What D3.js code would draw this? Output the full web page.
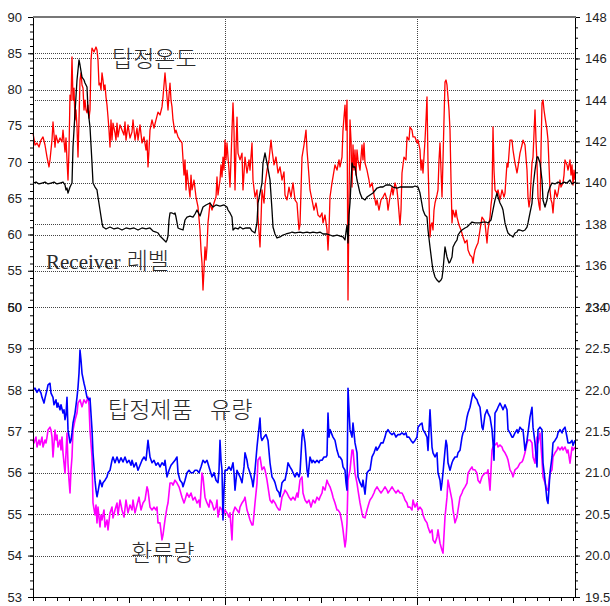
<!DOCTYPE html>
<html>
<head>
<meta charset="utf-8">
<script src="https://cdn.jsdelivr.net/npm/d3@7"></script>
<style>
  body { margin: 0; background: #fff; }
  .tick text { font-family: "Liberation Sans", Arial, sans-serif; font-size: 13px; fill: #222; }
  .tick line, .axis-line { stroke: #000; }
  .grid { stroke: #444; stroke-width: 1; stroke-dasharray: 1,1; shape-rendering: crispEdges; }
  .note { font-family: "Noto Sans CJK KR", sans-serif; font-size: 23px; font-weight: 300; fill: #2a2a2a; }
</style>
</head>
<body>
<svg id="chart" width="610" height="606"></svg>
<script>
// time in minutes from the left edge
const topTemp = [[0,142.40],[2,141.82],[4,141.92],[6,141.72],[8,142.06],[10,142.21],[12,141.82],[14,141.24],[16,140.76],[17,141.10],[19,142.06],[20,142.93],[22,141.72],[23,142.30],[25,141.92],[27,142.16],[29,141.97],[30,142.54],[32,141.48],[33,142.16],[34,141.10],[35,140.13],[36,141.58],[37,144.23],[38,143.99],[39,146.07],[40,143.99],[41,144.57],[42,143.03],[43,143.51],[44,142.69],[45,141.24],[46,143.03],[47,144.96],[48,145.30],[49,144.72],[50,144.57],[51,143.51],[52,143.99],[53,143.51],[54,143.37],[55,143.75],[56,143.12],[57,143.51],[58,145.92],[59,146.50],[61,146.31],[63,146.55],[64,146.41],[65,145.92],[66,144.72],[67,144.81],[68,144.48],[69,145.30],[70,144.96],[71,144.48],[72,144.72],[73,144.14],[74,143.75],[75,143.17],[76,142.54],[77,141.72],[78,143.03],[79,142.06],[80,142.88],[82,142.40],[83,142.06],[84,142.88],[85,142.21],[87,142.79],[89,142.54],[91,142.30],[92,142.93],[93,142.06],[95,142.79],[97,142.16],[99,142.45],[100,143.03],[102,142.06],[104,142.64],[105,142.06],[107,142.79],[109,141.92],[111,142.21],[113,141.58],[114,142.06],[115,140.76],[116,141.58],[117,142.54],[119,143.03],[121,142.64],[123,143.03],[125,143.41],[127,143.27],[129,143.66],[130,144.14],[131,144.72],[132,145.30],[133,144.72],[134,144.14],[135,143.51],[136,144.23],[137,144.81],[138,143.99],[139,143.66],[140,143.03],[142,142.40],[143,142.54],[145,142.21],[147,142.06],[149,141.92],[151,140.37],[152,141.10],[153,139.65],[154,140.61],[155,140.13],[157,139.31],[158,140.37],[159,139.65],[161,140.13],[163,139.31],[165,138.83],[167,137.72],[168,136.75],[169,136.12],[170,134.82],[171,135.79],[172,136.90],[173,136.27],[174,136.90],[175,138.06],[177,139.02],[179,138.68],[181,139.02],[183,139.31],[184,140.28],[185,139.41],[187,140.13],[188,140.86],[189,140.28],[190,141.24],[191,140.61],[192,142.06],[193,141.10],[194,141.92],[195,141.24],[196,140.61],[197,139.79],[198,141.10],[199,142.54],[200,143.85],[201,142.54],[202,139.65],[203,141.58],[204,143.17],[205,141.43],[207,141.10],[209,141.43],[210,139.65],[212,141.24],[214,140.47],[216,141.10],[217,140.61],[219,141.92],[220,140.13],[222,139.31],[224,139.65],[225,138.34],[227,136.90],[228,138.20],[229,139.65],[231,139.02],[232,139.89],[234,140.61],[236,141.10],[238,142.06],[239,141.58],[241,140.86],[243,141.24],[245,140.47],[247,140.76],[249,140.13],[251,140.52],[252,139.41],[254,139.17],[256,139.79],[258,139.31],[260,139.99],[262,139.17],[264,139.02],[265,138.34],[266,137.72],[267,137.96],[269,141.24],[271,141.82],[273,142.54],[274,141.58],[275,140.95],[277,139.65],[279,139.17],[281,138.68],[283,139.02],[285,138.44],[287,138.34],[289,138.54],[290,138.06],[292,138.44],[294,137.72],[295,136.75],[296,137.72],[297,139.31],[299,139.99],[300,140.28],[302,140.86],[304,140.61],[306,141.10],[307,140.76],[309,141.24],[310,142.54],[311,143.17],[312,143.75],[313,142.54],[314,143.99],[315,134.34],[316,139.17],[317,143.03],[318,142.06],[319,139.79],[320,141.82],[321,140.61],[322,141.58],[323,140.37],[324,141.58],[325,141.10],[327,140.61],[329,141.82],[330,141.10],[331,141.92],[332,140.95],[334,140.61],[336,140.13],[337,139.79],[339,139.99],[341,139.41],[343,138.92],[344,139.17],[346,138.68],[348,139.17],[350,139.31],[352,139.50],[354,139.17],[355,138.68],[357,139.31],[359,139.79],[360,139.41],[362,139.99],[364,139.65],[365,139.17],[367,137.96],[368,138.68],[369,140.47],[371,141.24],[373,141.10],[374,142.21],[376,142.06],[377,142.69],[379,142.54],[380,142.21],[382,142.21],[384,141.92],[385,142.06],[387,141.58],[388,140.61],[389,141.10],[390,140.47],[392,142.06],[393,143.03],[394,144.14],[395,140.95],[396,139.17],[397,137.38],[398,137.96],[399,138.06],[400,137.72],[401,138.68],[402,139.02],[404,139.41],[405,139.65],[406,141.10],[407,141.92],[408,140.61],[409,139.31],[410,141.10],[411,143.03],[412,144.86],[413,144.96],[414,144.72],[415,144.14],[416,143.51],[417,142.54],[418,140.13],[419,138.06],[420,138.68],[422,138.34],[423,138.68],[424,138.34],[426,137.96],[428,137.72],[430,137.38],[432,137.09],[434,137.23],[435,136.75],[437,136.51],[439,136.41],[440,136.12],[441,136.51],[442,136.75],[444,136.99],[445,137.09],[447,137.72],[449,138.34],[451,138.20],[452,138.06],[454,137.09],[455,137.72],[457,138.34],[458,138.92],[459,139.31],[460,142.69],[461,140.61],[462,139.65],[464,139.50],[465,139.65],[467,139.17],[469,139.65],[471,139.31],[472,139.50],[474,140.95],[475,140.76],[477,142.06],[479,142.06],[480,141.58],[482,140.95],[484,140.47],[485,140.76],[487,141.43],[489,141.82],[490,142.06],[492,141.82],[494,140.61],[495,139.31],[496,138.83],[497,139.17],[499,140.95],[500,141.24],[502,143.51],[503,142.06],[504,140.95],[505,139.31],[506,138.92],[507,138.68],[508,141.58],[509,143.85],[510,143.99],[511,143.51],[512,143.17],[514,142.54],[515,142.06],[517,139.65],[518,139.17],[519,139.02],[520,138.54],[521,139.17],[522,139.65],[524,139.31],[525,139.50],[527,140.13],[528,139.79],[530,139.99],[531,140.37],[532,141.10],[534,140.86],[535,140.61],[537,141.10],[538,140.37],[539,140.86],[540,139.89],[541,140.61],[542,140.13]];

const receiverLevel = [[0,67.10],[3,67.24],[6,66.97],[9,67.10],[12,67.24],[15,66.97],[18,67.10],[21,67.24],[24,66.97],[27,67.10],[30,67.24],[32,66.83],[33,66.14],[34,66.41],[35,65.72],[36,66.14],[37,66.55],[38,66.83],[39,67.10],[40,72.07],[42,76.76],[44,81.31],[46,84.07],[47,83.38],[49,81.72],[51,81.31],[52,80.90],[54,80.34],[55,77.17],[57,74.83],[59,69.86],[60,67.10],[62,66.55],[64,66.14],[65,65.17],[67,63.38],[69,61.59],[70,61.03],[73,60.76],[77,61.03],[81,60.76],[85,60.90],[89,60.62],[93,60.90],[97,60.76],[101,60.90],[105,60.62],[109,60.90],[113,60.76],[117,60.90],[120,60.48],[123,60.34],[125,60.21],[127,59.79],[129,59.52],[131,59.24],[133,58.97],[134,59.24],[135,59.79],[136,62.00],[137,62.97],[139,62.97],[141,62.83],[142,62.97],[143,62.41],[145,60.90],[147,60.76],[150,60.62],[152,62.00],[154,62.41],[157,62.55],[160,62.41],[162,62.83],[164,63.38],[167,62.55],[169,63.38],[170,63.79],[173,64.07],[177,64.34],[180,63.79],[183,64.07],[187,63.93],[191,64.07],[194,63.79],[195,63.38],[197,62.97],[199,62.41],[200,60.62],[202,60.90],[205,60.76],[207,61.03],[210,60.76],[213,60.90],[217,60.90],[219,60.48],[222,60.21],[224,61.59],[225,64.34],[227,65.72],[229,67.10],[230,69.86],[232,71.24],[234,69.86],[237,67.52],[239,63.38],[240,61.03],[242,60.07],[244,59.52],[247,59.66],[250,59.93],[253,60.07],[257,60.21],[259,60.34],[262,60.21],[267,60.34],[270,60.21],[274,60.34],[277,60.21],[280,60.34],[284,60.21],[287,60.34],[290,60.07],[294,60.07],[297,59.93],[300,59.79],[304,59.93],[307,59.79],[310,59.66],[312,59.24],[313,60.34],[314,61.31],[315,58.83],[316,62.69],[317,64.34],[319,69.86],[320,69.31],[322,69.31],[324,67.52],[327,65.72],[329,65.03],[332,64.76],[334,65.17],[337,65.45],[340,65.72],[344,66.41],[347,66.55],[350,66.55],[353,66.83],[357,66.83],[360,66.55],[364,66.41],[367,66.55],[372,66.55],[377,66.55],[380,66.55],[382,66.69],[385,66.55],[387,65.72],[390,63.38],[392,62.69],[394,62.41],[395,60.62],[397,58.28],[399,56.07],[400,55.10],[402,54.14],[404,53.72],[406,53.45],[408,53.72],[409,54.00],[410,55.10],[412,58.28],[414,56.90],[416,56.07],[417,56.21],[419,56.90],[420,58.28],[422,58.83],[424,59.24],[425,59.93],[427,60.34],[429,60.62],[432,60.90],[434,61.03],[436,61.31],[439,61.72],[442,61.59],[445,61.59],[447,61.59],[450,61.72],[453,61.72],[455,61.59],[458,62.00],[460,63.38],[462,64.76],[464,65.72],[465,65.17],[467,64.34],[469,63.79],[470,63.38],[472,61.59],[474,60.62],[475,60.21],[477,59.93],[479,59.79],[480,59.66],[482,60.21],[484,60.34],[485,60.62],[487,60.62],[490,60.48],[492,60.62],[494,61.03],[495,61.59],[497,62.97],[499,64.34],[500,66.55],[502,68.89],[504,70.69],[505,70.69],[507,69.86],[509,67.52],[510,64.76],[512,63.79],[514,64.76],[515,65.72],[517,66.55],[519,67.10],[522,66.97],[525,67.24],[528,66.97],[531,67.24],[534,67.10],[537,67.52],[539,66.97],[542,67.24]];

const productFlow = [[0,22.00],[2,22.02],[4,21.97],[6,22.01],[8,21.96],[9,21.91],[11,21.84],[12,21.90],[14,22.00],[15,22.06],[17,22.08],[18,21.96],[20,21.91],[21,21.82],[23,21.88],[24,21.79],[25,21.84],[27,21.76],[28,21.82],[30,21.72],[31,21.76],[32,21.64],[33,21.70],[34,21.91],[35,21.52],[37,21.36],[38,21.39],[39,21.48],[40,21.60],[42,21.72],[44,21.91],[45,22.03],[46,22.20],[47,22.48],[48,22.36],[49,22.20],[51,22.08],[52,22.03],[54,21.91],[56,21.88],[57,21.90],[59,21.52],[60,21.24],[62,20.91],[63,20.79],[64,20.71],[65,20.77],[67,20.91],[69,20.83],[70,20.88],[72,20.91],[74,20.95],[75,21.00],[77,21.03],[79,21.15],[80,21.19],[82,21.12],[84,21.19],[86,21.12],[88,21.18],[90,21.13],[92,21.19],[94,21.12],[96,21.15],[98,21.09],[99,21.15],[101,21.07],[103,21.12],[105,21.03],[107,21.09],[109,21.15],[111,21.19],[113,21.15],[115,21.39],[117,21.19],[119,21.12],[121,21.15],[123,21.09],[125,21.12],[127,21.07],[129,21.12],[131,21.09],[132,21.15],[134,20.95],[136,21.03],[138,21.09],[140,21.12],[142,21.15],[144,21.19],[145,21.00],[147,20.91],[149,20.88],[150,20.83],[152,20.91],[154,21.00],[156,21.03],[158,21.00],[160,21.00],[162,21.03],[164,21.03],[166,21.00],[168,21.07],[170,21.15],[172,21.12],[174,21.15],[176,21.07],[177,21.03],[179,20.95],[181,21.00],[183,20.91],[185,20.88],[186,21.03],[187,21.39],[188,21.15],[189,21.03],[190,20.43],[191,20.79],[192,21.03],[194,21.03],[196,21.07],[198,21.03],[200,21.12],[201,21.00],[202,20.79],[204,21.03],[205,21.00],[207,20.95],[209,20.88],[211,21.07],[212,21.24],[214,21.15],[215,21.07],[217,21.00],[219,20.91],[220,20.83],[222,21.03],[224,21.31],[225,21.43],[227,21.66],[228,21.43],[229,21.39],[231,21.43],[233,21.46],[235,21.39],[237,21.12],[239,20.95],[241,20.91],[242,20.88],[244,20.79],[246,20.76],[247,20.71],[249,20.88],[251,20.91],[252,20.91],[254,21.03],[255,21.12],[257,21.07],[259,21.03],[260,21.00],[262,20.95],[264,21.00],[266,20.95],[267,21.00],[269,21.43],[270,21.52],[272,21.36],[274,21.03],[275,20.95],[277,21.19],[279,21.12],[280,21.15],[282,21.12],[284,21.15],[286,21.12],[287,21.15],[289,21.15],[291,21.19],[293,21.19],[294,21.21],[295,21.72],[296,21.43],[297,21.52],[299,21.46],[300,21.43],[302,21.39],[304,21.27],[306,21.19],[307,21.19],[309,21.15],[310,21.07],[312,21.03],[313,20.88],[314,20.79],[315,22.02],[316,21.76],[317,21.52],[319,21.43],[320,21.60],[322,21.36],[324,21.24],[325,20.95],[327,20.88],[329,20.83],[330,20.91],[332,20.74],[334,21.00],[336,21.03],[337,21.03],[339,21.19],[341,21.24],[343,21.31],[344,21.27],[346,21.31],[348,21.36],[350,21.36],[352,21.43],[353,21.48],[355,21.52],[357,21.48],[359,21.46],[361,21.48],[363,21.43],[365,21.46],[367,21.46],[369,21.48],[371,21.46],[373,21.48],[374,21.43],[376,21.43],[378,21.39],[380,21.36],[382,21.39],[384,21.43],[385,21.55],[387,21.58],[389,21.60],[390,21.52],[392,21.48],[394,21.43],[395,21.27],[397,21.76],[399,21.31],[400,21.24],[402,21.19],[404,21.24],[405,21.00],[407,20.91],[408,20.79],[409,20.88],[410,21.00],[412,21.27],[413,21.39],[414,21.33],[415,21.12],[417,21.03],[419,21.12],[420,21.15],[422,21.19],[424,21.19],[425,21.24],[427,21.27],[429,21.43],[430,21.48],[432,21.52],[434,21.67],[435,21.72],[437,21.79],[439,21.91],[440,21.96],[442,21.91],[444,21.88],[445,21.84],[447,21.79],[449,21.55],[450,21.52],[452,21.70],[454,21.76],[455,21.72],[457,21.67],[459,21.52],[460,21.36],[461,21.15],[462,21.72],[464,21.76],[465,21.79],[467,21.84],[469,21.79],[470,21.76],[472,21.82],[474,21.76],[475,21.52],[477,21.48],[479,21.43],[480,21.43],[482,21.48],[484,21.52],[485,21.48],[487,21.55],[489,21.52],[490,21.52],[492,21.27],[494,21.39],[495,21.48],[497,21.67],[499,21.79],[500,21.55],[502,21.36],[504,21.07],[505,21.52],[507,21.55],[509,21.52],[510,21.12],[512,20.91],[514,20.67],[515,20.63],[517,21.00],[519,21.19],[520,21.36],[522,21.39],[524,21.43],[525,21.48],[527,21.52],[529,21.48],[530,21.52],[532,21.55],[534,21.43],[535,21.36],[537,21.36],[539,21.39],[540,21.33],[542,21.39]];

const refluxFlow = [[0,56.79],[1,56.72],[3,56.86],[4,56.62],[6,56.79],[7,56.67],[9,56.86],[10,56.62],[12,56.79],[13,56.72],[14,56.86],[15,57.03],[17,57.10],[18,57.03],[19,56.86],[20,56.38],[22,57.03],[23,56.79],[24,56.91],[25,56.62],[27,56.79],[28,56.55],[29,56.86],[30,56.48],[32,55.99],[34,56.96],[35,56.23],[36,55.82],[37,55.51],[38,56.07],[39,56.38],[40,57.03],[42,57.27],[44,57.44],[45,57.68],[47,57.76],[49,57.59],[51,57.76],[53,57.68],[55,57.83],[56,57.63],[57,57.03],[59,56.38],[60,55.27],[62,54.98],[63,55.22],[64,54.79],[65,55.17],[67,54.69],[68,54.98],[69,54.86],[71,55.10],[72,54.69],[74,54.86],[75,54.62],[77,55.03],[79,55.17],[80,54.91],[82,55.10],[84,55.27],[85,54.98],[87,55.34],[89,55.10],[91,54.93],[93,55.34],[95,55.03],[97,55.22],[99,55.10],[100,55.34],[102,55.03],[104,55.22],[106,55.41],[108,55.10],[110,55.27],[112,55.34],[114,55.66],[115,55.58],[117,55.17],[119,55.10],[121,55.17],[123,55.10],[124,55.17],[125,54.79],[127,54.79],[129,54.38],[130,54.50],[132,54.86],[134,55.17],[135,55.27],[137,55.75],[139,55.75],[140,55.70],[142,55.82],[144,55.75],[146,55.66],[147,55.58],[149,55.41],[151,55.27],[152,55.34],[154,55.51],[156,55.41],[158,55.51],[160,55.34],[162,55.41],[164,55.27],[166,55.34],[167,55.17],[169,55.99],[170,55.90],[172,55.41],[174,55.27],[176,55.17],[177,55.34],[179,55.27],[181,55.10],[183,55.17],[184,55.34],[185,54.93],[187,55.17],[189,55.10],[190,54.93],[192,55.10],[194,55.03],[196,54.93],[197,55.03],[199,54.38],[200,55.03],[202,55.17],[204,55.10],[206,55.03],[207,55.17],[209,55.27],[211,55.34],[212,55.41],[214,55.10],[215,55.03],[217,54.86],[219,54.74],[220,54.74],[222,55.27],[224,55.75],[225,56.31],[227,56.38],[229,56.07],[231,56.14],[232,56.07],[234,55.82],[235,55.66],[237,55.34],[239,55.27],[240,55.34],[242,55.27],[244,55.17],[246,55.10],[247,55.10],[249,55.41],[251,55.51],[252,55.58],[254,55.51],[256,55.41],[258,55.34],[260,55.41],[262,55.34],[264,55.51],[265,55.41],[267,55.82],[269,55.90],[270,55.51],[272,55.34],[274,55.27],[276,55.34],[278,55.17],[280,55.34],[282,55.27],[284,55.41],[286,55.34],[287,55.41],[289,55.51],[290,55.66],[292,55.58],[294,55.82],[295,55.75],[297,55.66],[299,55.51],[300,55.41],[302,55.27],[304,55.10],[305,55.10],[307,55.03],[309,54.79],[310,54.62],[312,54.21],[313,54.38],[314,54.79],[315,55.82],[317,56.07],[319,56.55],[320,56.55],[322,55.99],[324,55.75],[325,55.58],[327,55.27],[329,55.03],[330,54.93],[332,54.91],[334,55.10],[336,55.27],[337,55.34],[339,55.41],[341,55.51],[342,55.58],[344,55.66],[346,55.58],[348,55.51],[350,55.58],[352,55.66],[354,55.58],[355,55.51],[357,55.58],[359,55.66],[361,55.58],[363,55.51],[365,55.58],[367,55.51],[369,55.51],[371,55.41],[372,55.34],[374,55.27],[375,55.17],[377,55.17],[379,55.10],[380,55.34],[382,55.17],[384,55.27],[385,55.10],[387,55.17],[389,55.10],[390,54.98],[392,54.86],[394,54.79],[395,54.69],[397,54.55],[399,54.62],[400,54.38],[402,54.30],[404,54.45],[405,54.62],[407,54.30],[409,54.13],[410,54.06],[412,54.93],[414,55.41],[415,55.82],[417,55.58],[419,55.34],[420,55.10],[422,54.79],[424,54.93],[425,55.10],[427,55.41],[429,55.51],[430,55.58],[432,55.66],[434,55.75],[435,55.99],[437,56.07],[439,56.14],[440,56.07],[442,56.07],[444,55.99],[445,55.82],[447,55.75],[449,55.90],[450,55.94],[452,55.99],[454,55.99],[455,56.07],[457,55.58],[459,56.55],[460,56.62],[462,56.67],[464,56.72],[465,56.62],[467,56.67],[469,56.62],[470,56.55],[472,56.48],[474,56.38],[475,56.31],[477,56.07],[479,55.99],[480,55.90],[482,56.07],[484,56.11],[485,56.14],[487,56.23],[489,56.26],[490,56.31],[492,56.48],[494,56.72],[495,56.79],[497,56.79],[499,56.72],[500,56.38],[502,56.23],[504,56.86],[505,56.72],[507,56.96],[509,56.31],[510,55.90],[512,55.75],[514,55.58],[515,55.58],[517,55.99],[519,56.07],[520,56.38],[522,56.48],[524,56.55],[525,56.62],[527,56.55],[529,56.62],[530,56.55],[532,56.62],[534,56.48],[535,56.55],[537,56.23],[539,56.62],[540,56.55],[542,56.62]];

const levelTicks = [50, 55, 60, 65, 70, 75, 80, 85, 90];
const tempTicks = [134, 136, 138, 140, 142, 144, 146, 148];
const refluxTicks = [53, 54, 55, 56, 57, 58, 59, 60];
const flowTicks = [19.5, 20.0, 20.5, 21.0, 21.5, 22.0, 22.5, 23.0];
const timeGrid = [192, 384];

const labels = [
  { text: "탑정온도", t: 79, v: 145.59, scale: "temp" },
  { text: "탑정제품", t: 75, v: 21.66, scale: "flow" },
  { text: "유량", t: 177, v: 21.66, scale: "flow" },
  { text: "환류량", t: 98, v: 53.87, scale: "reflux" }
];

const svg = d3.select("#chart");

const x = d3.scaleLinear().domain([0, 542]).range([33, 575]);
const yLevel = d3.scaleLinear().domain([50, 90]).range([307, 17]);
const yTemp = d3.scaleLinear().domain([134, 148]).range([307, 17]);
const yReflux = d3.scaleLinear().domain([53, 60]).range([597, 307]);
const yFlow = d3.scaleLinear().domain([19.5, 23]).range([597, 307]);
const scales = { temp: yTemp, flow: yFlow, reflux: yReflux, level: yLevel };

const plotLeft = x.range()[0], plotRight = x.range()[1];
const plotTop = yLevel.range()[1], plotBottom = yReflux.range()[0];

// dotted grid
const grid = svg.append("g");
function hGrid(scale, values) {
  grid.selectAll(null)
    .data(values)
    .enter()
    .append("line")
    .attr("class", "grid")
    .attr("x1", plotLeft)
    .attr("x2", plotRight)
    .attr("y1", (d) => Math.round(scale(d)) + 0.5)
    .attr("y2", (d) => Math.round(scale(d)) + 0.5);
}
hGrid(yLevel, levelTicks.slice(0, -1));
hGrid(yTemp, tempTicks.slice(0, -1));
hGrid(yReflux, refluxTicks.slice(1));

grid.selectAll(null)
  .data(timeGrid)
  .enter()
  .append("line")
  .attr("class", "grid")
  .attr("x1", (d) => Math.round(x(d)) + 0.5)
  .attr("x2", (d) => Math.round(x(d)) + 0.5)
  .attr("y1", plotTop)
  .attr("y2", plotBottom);

// series
function drawSeries(data, scale, color, w) {
  svg.append("path")
    .datum(data)
    .attr("fill", "none")
    .attr("stroke", color)
    .attr("stroke-width", w)
    .attr("stroke-linejoin", "round")
    .attr("d", d3.line().x((d) => x(d[0])).y((d) => scale(d[1])));
}
drawSeries(topTemp, yTemp, "#ff0000", 1.3);
drawSeries(receiverLevel, yLevel, "#000000", 1.3);
drawSeries(refluxFlow, yReflux, "#ff00ff", 1.6);
drawSeries(productFlow, yFlow, "#0000ff", 1.6);

// axes
function addAxis(axis, tx, ty) {
  const g = svg.append("g")
    .attr("transform", `translate(${tx},${ty})`)
    .call(axis);
  g.select(".domain").remove();
  g.attr("font-size", null).attr("font-family", null);
  return g;
}
const intFmt = d3.format("d");

addAxis(d3.axisLeft(yLevel).tickValues(d3.range(50, 91, 1)).tickSize(3).tickFormat(""), plotLeft, 0);
addAxis(d3.axisLeft(yLevel).tickValues(levelTicks).tickSize(5).tickPadding(6).tickFormat(intFmt), plotLeft, 0);
addAxis(d3.axisLeft(yReflux).tickValues(d3.range(0, 36).map((i) => 53 + i * 0.2)).tickSize(3).tickFormat(""), plotLeft, 0);
addAxis(d3.axisLeft(yReflux).tickValues(refluxTicks).tickSize(5).tickPadding(6).tickFormat(intFmt), plotLeft, 0);

addAxis(d3.axisRight(yTemp).tickValues(d3.range(0, 29).map((i) => 134 + i * 0.5)).tickSize(3).tickFormat(""), plotRight, 0);
addAxis(d3.axisRight(yTemp).tickValues(tempTicks).tickSize(5).tickPadding(5).tickFormat(intFmt), plotRight, 0);
addAxis(d3.axisRight(yFlow).tickValues(d3.range(0, 36).map((i) => 19.5 + i * 0.1)).tickSize(3).tickFormat(""), plotRight, 0);
addAxis(d3.axisRight(yFlow).tickValues(flowTicks).tickSize(5).tickPadding(5).tickFormat(d3.format(".1f")), plotRight, 0);

addAxis(d3.axisBottom(x).tickValues(d3.range(0, 543, 12)).tickSize(4).tickFormat(""), 0, plotBottom);
addAxis(d3.axisBottom(x).tickValues([96, 288, 480]).tickSize(6).tickFormat(""), 0, plotBottom);
addAxis(d3.axisBottom(x).tickValues(timeGrid).tickSize(8).tickFormat(""), 0, plotBottom);

svg.append("line").attr("class", "axis-line")
  .attr("x1", plotLeft + 0.5).attr("x2", plotLeft + 0.5).attr("y1", plotTop).attr("y2", plotBottom + 1);
svg.append("line").attr("class", "axis-line")
  .attr("x1", plotRight + 0.5).attr("x2", plotRight + 0.5).attr("y1", plotTop).attr("y2", plotBottom + 1);
svg.append("line").attr("class", "axis-line")
  .attr("x1", plotLeft).attr("x2", plotRight + 1).attr("y1", plotBottom + 0.5).attr("y2", plotBottom + 0.5);
svg.append("line")
  .attr("x1", plotLeft).attr("x2", plotRight + 1).attr("y1", plotTop).attr("y2", plotTop)
  .attr("stroke", "#777").attr("stroke-width", 2);

// series names
svg.selectAll(".note-k")
  .data(labels)
  .enter()
  .append("text")
  .attr("class", "note")
  .attr("x", (d) => x(d.t))
  .attr("y", (d) => scales[d.scale](d.v))
  .text((d) => d.text);

const recv = svg.append("text")
  .attr("class", "note")
  .attr("x", x(13))
  .attr("y", yLevel(55.2));
recv.append("tspan")
  .style("font-family", '"Liberation Serif", "Times New Roman", serif')
  .style("font-weight", 400)
  .style("font-size", "21px")
  .text("Receiver");
recv.append("tspan").attr("dx", 6).text("레벨");
</script>
</body>
</html>
